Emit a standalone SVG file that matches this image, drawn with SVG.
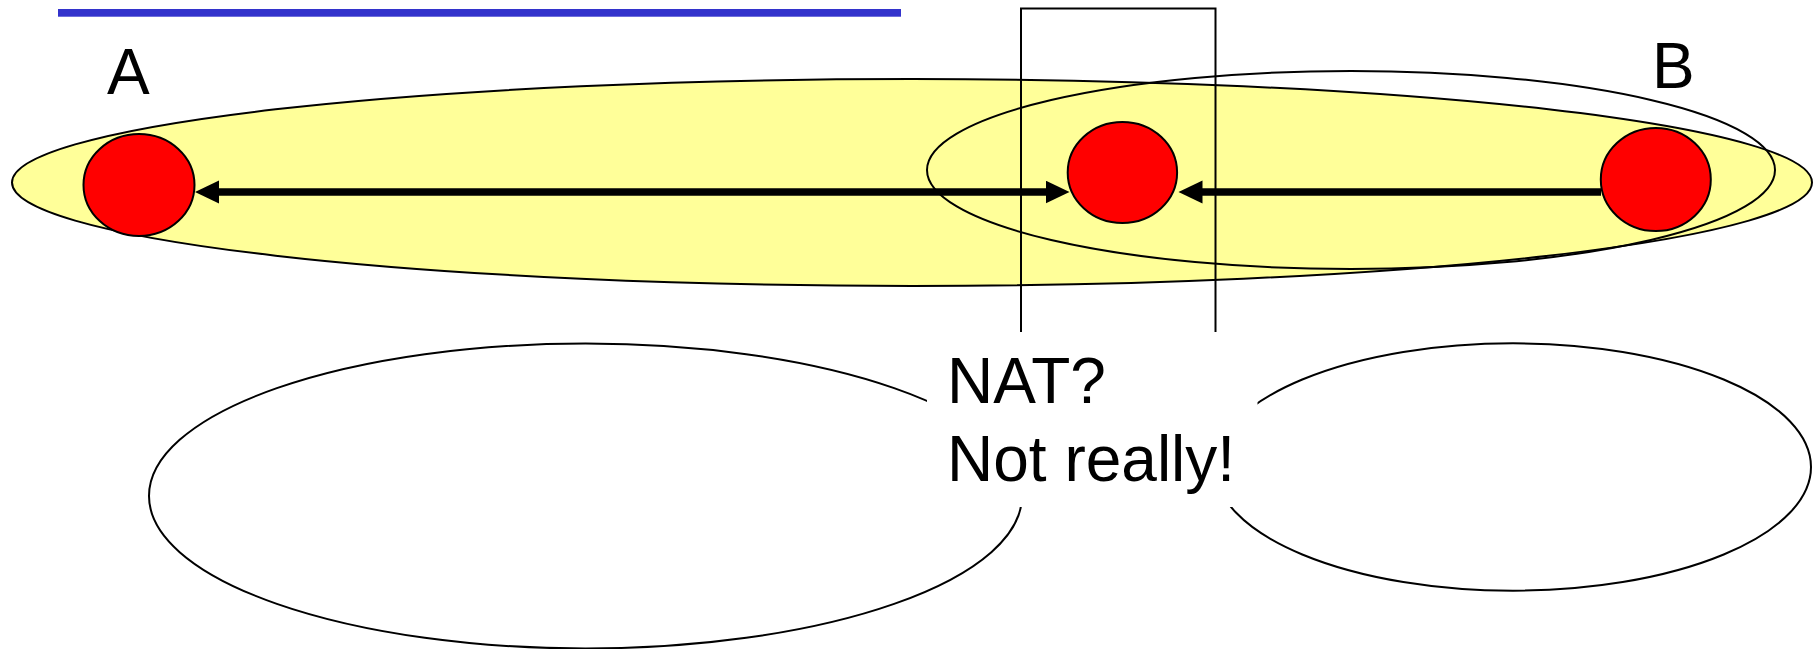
<svg xmlns="http://www.w3.org/2000/svg" width="1816" height="649" viewBox="0 0 1816 649">
<style>
.line{fill:none;stroke:#000;stroke-width:2}
.host{fill:#FF0000;stroke:#000;stroke-width:2}
.lbl{font-family:"Liberation Sans",Arial,sans-serif;font-size:64px;fill:#000}
.arr{stroke:#000;stroke-width:7.5;fill:none}
</style>
<defs>
<marker id="ah" markerUnits="userSpaceOnUse" markerWidth="25" markerHeight="24" refX="0.5" refY="11.5" orient="auto-start-reverse" viewBox="0 0 25 24">
<path d="M0,0 L24,11.5 L0,23 Z" fill="#000"/>
</marker>
</defs>
<rect id="titlebar" x="58" y="9" width="843" height="7.7" fill="#3333CC"/>
<g id="domain-big">
<ellipse cx="912" cy="182.5" rx="900" ry="103.5" fill="#FFFF99" stroke="#000" stroke-width="2"/>
</g>
<g id="domain-right">
<ellipse cx="1351" cy="170" rx="424" ry="99" class="line"/>
</g>
<g id="connectors">
<line x1="218.5" y1="192" x2="1046" y2="192" class="arr" marker-start="url(#ah)" marker-end="url(#ah)"/>
<line x1="1601" y1="192" x2="1202" y2="192" class="arr" marker-end="url(#ah)"/>
</g>
<g id="host-A">
<ellipse cx="139" cy="185" rx="55.5" ry="51" class="host"/>
<text class="lbl" x="107" y="94">A</text>
</g>
<g id="host-mid">
<ellipse cx="1122.4" cy="172.5" rx="54.7" ry="50.5" class="host"/>
</g>
<g id="host-B">
<ellipse cx="1655.8" cy="179.5" rx="55" ry="51.5" class="host"/>
<text class="lbl" x="1652" y="88">B</text>
</g>
<g id="nat-box">
<rect x="1021" y="8.5" width="194.5" height="400" class="line"/>
</g>
<g id="cloud-left">
<ellipse cx="585.5" cy="496" rx="436.5" ry="152.5" class="line"/>
</g>
<g id="cloud-right">
<ellipse cx="1513" cy="467" rx="298" ry="123.7" class="line"/>
</g>
<g id="nat-label">
<rect x="927" y="332" width="330.5" height="175" fill="#fff"/>
<text class="lbl" x="947" y="403">NAT?</text>
<text class="lbl" x="947" y="481">Not really!</text>
</g>
</svg>
